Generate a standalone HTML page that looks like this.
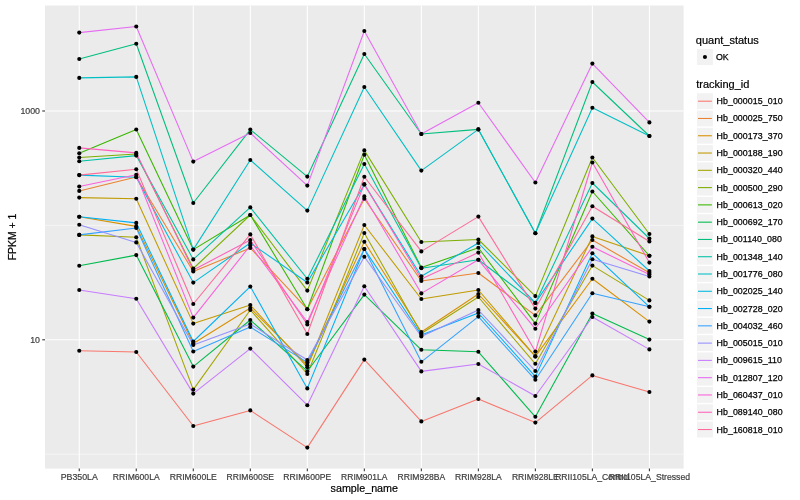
<!DOCTYPE html><html><head><meta charset="utf-8"><style>html,body{margin:0;padding:0;background:#fff;}svg{display:block;will-change:transform;}text{font-family:"Liberation Sans",sans-serif;}</style></head><body>
<svg width="800" height="500" viewBox="0 0 800 500">
<rect x="0" y="0" width="800" height="500" fill="#FFFFFF"/>
<rect x="45.0" y="5.5" width="638.60" height="463.10" fill="#EBEBEB"/>
<line x1="45.0" y1="454.20" x2="683.6" y2="454.20" stroke="#FFFFFF" stroke-width="0.53"/>
<line x1="45.0" y1="225.40" x2="683.6" y2="225.40" stroke="#FFFFFF" stroke-width="0.53"/>
<line x1="45.0" y1="339.80" x2="683.6" y2="339.80" stroke="#FFFFFF" stroke-width="1.07"/>
<line x1="45.0" y1="111.00" x2="683.6" y2="111.00" stroke="#FFFFFF" stroke-width="1.07"/>
<line x1="79.25" y1="5.5" x2="79.25" y2="468.6" stroke="#FFFFFF" stroke-width="1.07"/>
<line x1="136.26" y1="5.5" x2="136.26" y2="468.6" stroke="#FFFFFF" stroke-width="1.07"/>
<line x1="193.28" y1="5.5" x2="193.28" y2="468.6" stroke="#FFFFFF" stroke-width="1.07"/>
<line x1="250.30" y1="5.5" x2="250.30" y2="468.6" stroke="#FFFFFF" stroke-width="1.07"/>
<line x1="307.31" y1="5.5" x2="307.31" y2="468.6" stroke="#FFFFFF" stroke-width="1.07"/>
<line x1="364.32" y1="5.5" x2="364.32" y2="468.6" stroke="#FFFFFF" stroke-width="1.07"/>
<line x1="421.34" y1="5.5" x2="421.34" y2="468.6" stroke="#FFFFFF" stroke-width="1.07"/>
<line x1="478.36" y1="5.5" x2="478.36" y2="468.6" stroke="#FFFFFF" stroke-width="1.07"/>
<line x1="535.37" y1="5.5" x2="535.37" y2="468.6" stroke="#FFFFFF" stroke-width="1.07"/>
<line x1="592.38" y1="5.5" x2="592.38" y2="468.6" stroke="#FFFFFF" stroke-width="1.07"/>
<line x1="649.40" y1="5.5" x2="649.40" y2="468.6" stroke="#FFFFFF" stroke-width="1.07"/>
<polyline points="79.25,350.70 136.26,352.00 193.28,426.00 250.30,410.40 307.31,447.60 364.32,359.60 421.34,421.40 478.36,399.00 535.37,422.60 592.38,375.40 649.40,392.00" fill="none" stroke="#F8766D" stroke-width="1.07" stroke-linejoin="round" stroke-linecap="butt"/>
<polyline points="79.25,190.90 136.26,177.00 193.28,271.50 250.30,248.00 307.31,309.20 364.32,198.80 421.34,281.00 478.36,273.00 535.37,315.40 592.38,240.00 649.40,272.80" fill="none" stroke="#EA8331" stroke-width="1.07" stroke-linejoin="round" stroke-linecap="butt"/>
<polyline points="79.25,216.80 136.26,226.40 193.28,343.50 250.30,308.00 307.31,365.20 364.32,241.80 421.34,332.00 478.36,294.00 535.37,356.40 592.38,278.80 649.40,321.60" fill="none" stroke="#D89000" stroke-width="1.07" stroke-linejoin="round" stroke-linecap="butt"/>
<polyline points="79.25,197.60 136.26,198.70 193.28,323.60 250.30,305.00 307.31,367.20 364.32,225.00 421.34,299.00 478.36,290.00 535.37,356.40 592.38,236.40 649.40,255.80" fill="none" stroke="#C09B00" stroke-width="1.07" stroke-linejoin="round" stroke-linecap="butt"/>
<polyline points="79.25,234.90 136.26,237.30 193.28,389.60 250.30,310.00 307.31,374.00 364.32,233.00 421.34,333.50 478.36,297.00 535.37,363.80 592.38,265.60 649.40,300.40" fill="none" stroke="#A3A500" stroke-width="1.07" stroke-linejoin="round" stroke-linecap="butt"/>
<polyline points="79.25,157.50 136.26,154.00 193.28,268.50 250.30,215.00 307.31,290.60 364.32,150.40 421.34,242.00 478.36,239.50 535.37,296.10 592.38,157.50 649.40,234.00" fill="none" stroke="#7CAE00" stroke-width="1.07" stroke-linejoin="round" stroke-linecap="butt"/>
<polyline points="79.25,153.20 136.26,129.50 193.28,249.60 250.30,215.00 307.31,309.20 364.32,154.80 421.34,267.60 478.36,247.80 535.37,323.60 592.38,191.50 649.40,255.80" fill="none" stroke="#39B600" stroke-width="1.07" stroke-linejoin="round" stroke-linecap="butt"/>
<polyline points="79.25,265.70 136.26,255.10 193.28,366.60 250.30,320.00 307.31,371.20 364.32,294.60 421.34,349.80 478.36,351.80 535.37,416.80 592.38,313.60 649.40,339.60" fill="none" stroke="#00BB4E" stroke-width="1.07" stroke-linejoin="round" stroke-linecap="butt"/>
<polyline points="79.25,59.00 136.26,43.80 193.28,203.00 250.30,129.60 307.31,176.60 364.32,54.00 421.34,134.00 478.36,129.40 535.37,233.20 592.38,82.00 649.40,136.00" fill="none" stroke="#00BF7D" stroke-width="1.07" stroke-linejoin="round" stroke-linecap="butt"/>
<polyline points="79.25,161.20 136.26,155.60 193.28,259.40 250.30,207.40 307.31,278.75 364.32,164.00 421.34,268.20 478.36,259.80 535.37,302.90 592.38,183.00 649.40,238.50" fill="none" stroke="#00C1A3" stroke-width="1.07" stroke-linejoin="round" stroke-linecap="butt"/>
<polyline points="79.25,77.90 136.26,76.90 193.28,249.60 250.30,160.00 307.31,210.60 364.32,87.00 421.34,170.60 478.36,129.40 535.37,233.20 592.38,107.80 649.40,136.00" fill="none" stroke="#00BFC4" stroke-width="1.07" stroke-linejoin="round" stroke-linecap="butt"/>
<polyline points="79.25,175.10 136.26,177.20 193.28,282.60 250.30,243.00 307.31,282.50 364.32,184.40 421.34,276.20 478.36,243.00 535.37,302.90 592.38,218.60 649.40,271.00" fill="none" stroke="#00BAE0" stroke-width="1.07" stroke-linejoin="round" stroke-linecap="butt"/>
<polyline points="79.25,216.80 136.26,222.90 193.28,341.50 250.30,286.60 307.31,388.40 364.32,249.00 421.34,335.00 478.36,313.00 535.37,376.60 592.38,253.20 649.40,306.80" fill="none" stroke="#00B0F6" stroke-width="1.07" stroke-linejoin="round" stroke-linecap="butt"/>
<polyline points="79.25,234.90 136.26,228.00 193.28,351.50 250.30,327.00 307.31,362.40 364.32,249.00 421.34,361.80 478.36,316.60 535.37,379.80 592.38,293.20 649.40,306.80" fill="none" stroke="#35A2FF" stroke-width="1.07" stroke-linejoin="round" stroke-linecap="butt"/>
<polyline points="79.25,224.80 136.26,242.40 193.28,345.00 250.30,324.00 307.31,360.00 364.32,256.80 421.34,336.50 478.36,310.00 535.37,371.00 592.38,259.20 649.40,276.50" fill="none" stroke="#9590FF" stroke-width="1.07" stroke-linejoin="round" stroke-linecap="butt"/>
<polyline points="79.25,290.00 136.26,298.80 193.28,393.60 250.30,348.60 307.31,405.20 364.32,286.20 421.34,371.40 478.36,364.00 535.37,396.00 592.38,317.00 649.40,349.40" fill="none" stroke="#C77CFF" stroke-width="1.07" stroke-linejoin="round" stroke-linecap="butt"/>
<polyline points="79.25,32.60 136.26,26.50 193.28,161.60 250.30,133.00 307.31,185.60 364.32,31.00 421.34,134.00 478.36,102.80 535.37,182.50 592.38,63.60 649.40,122.40" fill="none" stroke="#E76BF3" stroke-width="1.07" stroke-linejoin="round" stroke-linecap="butt"/>
<polyline points="79.25,186.50 136.26,174.80 193.28,317.60 250.30,245.50 307.31,322.00 364.32,196.40 421.34,293.40 478.36,259.80 535.37,328.80 592.38,246.80 649.40,274.60" fill="none" stroke="#FA62DB" stroke-width="1.07" stroke-linejoin="round" stroke-linecap="butt"/>
<polyline points="79.25,147.90 136.26,152.90 193.28,270.00 250.30,240.00 307.31,324.50 364.32,184.40 421.34,279.00 478.36,252.60 535.37,351.60 592.38,162.50 649.40,262.60" fill="none" stroke="#FF62BC" stroke-width="1.07" stroke-linejoin="round" stroke-linecap="butt"/>
<polyline points="79.25,175.10 136.26,169.20 193.28,304.00 250.30,234.40 307.31,334.00 364.32,176.80 421.34,251.40 478.36,216.60 535.37,308.60 592.38,206.20 649.40,241.50" fill="none" stroke="#FF6A98" stroke-width="1.07" stroke-linejoin="round" stroke-linecap="butt"/>
<circle cx="79.25" cy="350.70" r="2.05" fill="#000"/>
<circle cx="79.25" cy="190.90" r="2.05" fill="#000"/>
<circle cx="79.25" cy="216.80" r="2.05" fill="#000"/>
<circle cx="79.25" cy="197.60" r="2.05" fill="#000"/>
<circle cx="79.25" cy="234.90" r="2.05" fill="#000"/>
<circle cx="79.25" cy="157.50" r="2.05" fill="#000"/>
<circle cx="79.25" cy="153.20" r="2.05" fill="#000"/>
<circle cx="79.25" cy="265.70" r="2.05" fill="#000"/>
<circle cx="79.25" cy="59.00" r="2.05" fill="#000"/>
<circle cx="79.25" cy="161.20" r="2.05" fill="#000"/>
<circle cx="79.25" cy="77.90" r="2.05" fill="#000"/>
<circle cx="79.25" cy="175.10" r="2.05" fill="#000"/>
<circle cx="79.25" cy="216.80" r="2.05" fill="#000"/>
<circle cx="79.25" cy="234.90" r="2.05" fill="#000"/>
<circle cx="79.25" cy="224.80" r="2.05" fill="#000"/>
<circle cx="79.25" cy="290.00" r="2.05" fill="#000"/>
<circle cx="79.25" cy="32.60" r="2.05" fill="#000"/>
<circle cx="79.25" cy="186.50" r="2.05" fill="#000"/>
<circle cx="79.25" cy="147.90" r="2.05" fill="#000"/>
<circle cx="79.25" cy="175.10" r="2.05" fill="#000"/>
<circle cx="136.26" cy="352.00" r="2.05" fill="#000"/>
<circle cx="136.26" cy="177.00" r="2.05" fill="#000"/>
<circle cx="136.26" cy="226.40" r="2.05" fill="#000"/>
<circle cx="136.26" cy="198.70" r="2.05" fill="#000"/>
<circle cx="136.26" cy="237.30" r="2.05" fill="#000"/>
<circle cx="136.26" cy="154.00" r="2.05" fill="#000"/>
<circle cx="136.26" cy="129.50" r="2.05" fill="#000"/>
<circle cx="136.26" cy="255.10" r="2.05" fill="#000"/>
<circle cx="136.26" cy="43.80" r="2.05" fill="#000"/>
<circle cx="136.26" cy="155.60" r="2.05" fill="#000"/>
<circle cx="136.26" cy="76.90" r="2.05" fill="#000"/>
<circle cx="136.26" cy="177.20" r="2.05" fill="#000"/>
<circle cx="136.26" cy="222.90" r="2.05" fill="#000"/>
<circle cx="136.26" cy="228.00" r="2.05" fill="#000"/>
<circle cx="136.26" cy="242.40" r="2.05" fill="#000"/>
<circle cx="136.26" cy="298.80" r="2.05" fill="#000"/>
<circle cx="136.26" cy="26.50" r="2.05" fill="#000"/>
<circle cx="136.26" cy="174.80" r="2.05" fill="#000"/>
<circle cx="136.26" cy="152.90" r="2.05" fill="#000"/>
<circle cx="136.26" cy="169.20" r="2.05" fill="#000"/>
<circle cx="193.28" cy="426.00" r="2.05" fill="#000"/>
<circle cx="193.28" cy="271.50" r="2.05" fill="#000"/>
<circle cx="193.28" cy="343.50" r="2.05" fill="#000"/>
<circle cx="193.28" cy="323.60" r="2.05" fill="#000"/>
<circle cx="193.28" cy="389.60" r="2.05" fill="#000"/>
<circle cx="193.28" cy="268.50" r="2.05" fill="#000"/>
<circle cx="193.28" cy="249.60" r="2.05" fill="#000"/>
<circle cx="193.28" cy="366.60" r="2.05" fill="#000"/>
<circle cx="193.28" cy="203.00" r="2.05" fill="#000"/>
<circle cx="193.28" cy="259.40" r="2.05" fill="#000"/>
<circle cx="193.28" cy="249.60" r="2.05" fill="#000"/>
<circle cx="193.28" cy="282.60" r="2.05" fill="#000"/>
<circle cx="193.28" cy="341.50" r="2.05" fill="#000"/>
<circle cx="193.28" cy="351.50" r="2.05" fill="#000"/>
<circle cx="193.28" cy="345.00" r="2.05" fill="#000"/>
<circle cx="193.28" cy="393.60" r="2.05" fill="#000"/>
<circle cx="193.28" cy="161.60" r="2.05" fill="#000"/>
<circle cx="193.28" cy="317.60" r="2.05" fill="#000"/>
<circle cx="193.28" cy="270.00" r="2.05" fill="#000"/>
<circle cx="193.28" cy="304.00" r="2.05" fill="#000"/>
<circle cx="250.30" cy="410.40" r="2.05" fill="#000"/>
<circle cx="250.30" cy="248.00" r="2.05" fill="#000"/>
<circle cx="250.30" cy="308.00" r="2.05" fill="#000"/>
<circle cx="250.30" cy="305.00" r="2.05" fill="#000"/>
<circle cx="250.30" cy="310.00" r="2.05" fill="#000"/>
<circle cx="250.30" cy="215.00" r="2.05" fill="#000"/>
<circle cx="250.30" cy="215.00" r="2.05" fill="#000"/>
<circle cx="250.30" cy="320.00" r="2.05" fill="#000"/>
<circle cx="250.30" cy="129.60" r="2.05" fill="#000"/>
<circle cx="250.30" cy="207.40" r="2.05" fill="#000"/>
<circle cx="250.30" cy="160.00" r="2.05" fill="#000"/>
<circle cx="250.30" cy="243.00" r="2.05" fill="#000"/>
<circle cx="250.30" cy="286.60" r="2.05" fill="#000"/>
<circle cx="250.30" cy="327.00" r="2.05" fill="#000"/>
<circle cx="250.30" cy="324.00" r="2.05" fill="#000"/>
<circle cx="250.30" cy="348.60" r="2.05" fill="#000"/>
<circle cx="250.30" cy="133.00" r="2.05" fill="#000"/>
<circle cx="250.30" cy="245.50" r="2.05" fill="#000"/>
<circle cx="250.30" cy="240.00" r="2.05" fill="#000"/>
<circle cx="250.30" cy="234.40" r="2.05" fill="#000"/>
<circle cx="307.31" cy="447.60" r="2.05" fill="#000"/>
<circle cx="307.31" cy="309.20" r="2.05" fill="#000"/>
<circle cx="307.31" cy="365.20" r="2.05" fill="#000"/>
<circle cx="307.31" cy="367.20" r="2.05" fill="#000"/>
<circle cx="307.31" cy="374.00" r="2.05" fill="#000"/>
<circle cx="307.31" cy="290.60" r="2.05" fill="#000"/>
<circle cx="307.31" cy="309.20" r="2.05" fill="#000"/>
<circle cx="307.31" cy="371.20" r="2.05" fill="#000"/>
<circle cx="307.31" cy="176.60" r="2.05" fill="#000"/>
<circle cx="307.31" cy="278.75" r="2.05" fill="#000"/>
<circle cx="307.31" cy="210.60" r="2.05" fill="#000"/>
<circle cx="307.31" cy="282.50" r="2.05" fill="#000"/>
<circle cx="307.31" cy="388.40" r="2.05" fill="#000"/>
<circle cx="307.31" cy="362.40" r="2.05" fill="#000"/>
<circle cx="307.31" cy="360.00" r="2.05" fill="#000"/>
<circle cx="307.31" cy="405.20" r="2.05" fill="#000"/>
<circle cx="307.31" cy="185.60" r="2.05" fill="#000"/>
<circle cx="307.31" cy="322.00" r="2.05" fill="#000"/>
<circle cx="307.31" cy="324.50" r="2.05" fill="#000"/>
<circle cx="307.31" cy="334.00" r="2.05" fill="#000"/>
<circle cx="364.32" cy="359.60" r="2.05" fill="#000"/>
<circle cx="364.32" cy="198.80" r="2.05" fill="#000"/>
<circle cx="364.32" cy="241.80" r="2.05" fill="#000"/>
<circle cx="364.32" cy="225.00" r="2.05" fill="#000"/>
<circle cx="364.32" cy="233.00" r="2.05" fill="#000"/>
<circle cx="364.32" cy="150.40" r="2.05" fill="#000"/>
<circle cx="364.32" cy="154.80" r="2.05" fill="#000"/>
<circle cx="364.32" cy="294.60" r="2.05" fill="#000"/>
<circle cx="364.32" cy="54.00" r="2.05" fill="#000"/>
<circle cx="364.32" cy="164.00" r="2.05" fill="#000"/>
<circle cx="364.32" cy="87.00" r="2.05" fill="#000"/>
<circle cx="364.32" cy="184.40" r="2.05" fill="#000"/>
<circle cx="364.32" cy="249.00" r="2.05" fill="#000"/>
<circle cx="364.32" cy="249.00" r="2.05" fill="#000"/>
<circle cx="364.32" cy="256.80" r="2.05" fill="#000"/>
<circle cx="364.32" cy="286.20" r="2.05" fill="#000"/>
<circle cx="364.32" cy="31.00" r="2.05" fill="#000"/>
<circle cx="364.32" cy="196.40" r="2.05" fill="#000"/>
<circle cx="364.32" cy="184.40" r="2.05" fill="#000"/>
<circle cx="364.32" cy="176.80" r="2.05" fill="#000"/>
<circle cx="421.34" cy="421.40" r="2.05" fill="#000"/>
<circle cx="421.34" cy="281.00" r="2.05" fill="#000"/>
<circle cx="421.34" cy="332.00" r="2.05" fill="#000"/>
<circle cx="421.34" cy="299.00" r="2.05" fill="#000"/>
<circle cx="421.34" cy="333.50" r="2.05" fill="#000"/>
<circle cx="421.34" cy="242.00" r="2.05" fill="#000"/>
<circle cx="421.34" cy="267.60" r="2.05" fill="#000"/>
<circle cx="421.34" cy="349.80" r="2.05" fill="#000"/>
<circle cx="421.34" cy="134.00" r="2.05" fill="#000"/>
<circle cx="421.34" cy="268.20" r="2.05" fill="#000"/>
<circle cx="421.34" cy="170.60" r="2.05" fill="#000"/>
<circle cx="421.34" cy="276.20" r="2.05" fill="#000"/>
<circle cx="421.34" cy="335.00" r="2.05" fill="#000"/>
<circle cx="421.34" cy="361.80" r="2.05" fill="#000"/>
<circle cx="421.34" cy="336.50" r="2.05" fill="#000"/>
<circle cx="421.34" cy="371.40" r="2.05" fill="#000"/>
<circle cx="421.34" cy="134.00" r="2.05" fill="#000"/>
<circle cx="421.34" cy="293.40" r="2.05" fill="#000"/>
<circle cx="421.34" cy="279.00" r="2.05" fill="#000"/>
<circle cx="421.34" cy="251.40" r="2.05" fill="#000"/>
<circle cx="478.36" cy="399.00" r="2.05" fill="#000"/>
<circle cx="478.36" cy="273.00" r="2.05" fill="#000"/>
<circle cx="478.36" cy="294.00" r="2.05" fill="#000"/>
<circle cx="478.36" cy="290.00" r="2.05" fill="#000"/>
<circle cx="478.36" cy="297.00" r="2.05" fill="#000"/>
<circle cx="478.36" cy="239.50" r="2.05" fill="#000"/>
<circle cx="478.36" cy="247.80" r="2.05" fill="#000"/>
<circle cx="478.36" cy="351.80" r="2.05" fill="#000"/>
<circle cx="478.36" cy="129.40" r="2.05" fill="#000"/>
<circle cx="478.36" cy="259.80" r="2.05" fill="#000"/>
<circle cx="478.36" cy="129.40" r="2.05" fill="#000"/>
<circle cx="478.36" cy="243.00" r="2.05" fill="#000"/>
<circle cx="478.36" cy="313.00" r="2.05" fill="#000"/>
<circle cx="478.36" cy="316.60" r="2.05" fill="#000"/>
<circle cx="478.36" cy="310.00" r="2.05" fill="#000"/>
<circle cx="478.36" cy="364.00" r="2.05" fill="#000"/>
<circle cx="478.36" cy="102.80" r="2.05" fill="#000"/>
<circle cx="478.36" cy="259.80" r="2.05" fill="#000"/>
<circle cx="478.36" cy="252.60" r="2.05" fill="#000"/>
<circle cx="478.36" cy="216.60" r="2.05" fill="#000"/>
<circle cx="535.37" cy="422.60" r="2.05" fill="#000"/>
<circle cx="535.37" cy="315.40" r="2.05" fill="#000"/>
<circle cx="535.37" cy="356.40" r="2.05" fill="#000"/>
<circle cx="535.37" cy="356.40" r="2.05" fill="#000"/>
<circle cx="535.37" cy="363.80" r="2.05" fill="#000"/>
<circle cx="535.37" cy="296.10" r="2.05" fill="#000"/>
<circle cx="535.37" cy="323.60" r="2.05" fill="#000"/>
<circle cx="535.37" cy="416.80" r="2.05" fill="#000"/>
<circle cx="535.37" cy="233.20" r="2.05" fill="#000"/>
<circle cx="535.37" cy="302.90" r="2.05" fill="#000"/>
<circle cx="535.37" cy="233.20" r="2.05" fill="#000"/>
<circle cx="535.37" cy="302.90" r="2.05" fill="#000"/>
<circle cx="535.37" cy="376.60" r="2.05" fill="#000"/>
<circle cx="535.37" cy="379.80" r="2.05" fill="#000"/>
<circle cx="535.37" cy="371.00" r="2.05" fill="#000"/>
<circle cx="535.37" cy="396.00" r="2.05" fill="#000"/>
<circle cx="535.37" cy="182.50" r="2.05" fill="#000"/>
<circle cx="535.37" cy="328.80" r="2.05" fill="#000"/>
<circle cx="535.37" cy="351.60" r="2.05" fill="#000"/>
<circle cx="535.37" cy="308.60" r="2.05" fill="#000"/>
<circle cx="592.38" cy="375.40" r="2.05" fill="#000"/>
<circle cx="592.38" cy="240.00" r="2.05" fill="#000"/>
<circle cx="592.38" cy="278.80" r="2.05" fill="#000"/>
<circle cx="592.38" cy="236.40" r="2.05" fill="#000"/>
<circle cx="592.38" cy="265.60" r="2.05" fill="#000"/>
<circle cx="592.38" cy="157.50" r="2.05" fill="#000"/>
<circle cx="592.38" cy="191.50" r="2.05" fill="#000"/>
<circle cx="592.38" cy="313.60" r="2.05" fill="#000"/>
<circle cx="592.38" cy="82.00" r="2.05" fill="#000"/>
<circle cx="592.38" cy="183.00" r="2.05" fill="#000"/>
<circle cx="592.38" cy="107.80" r="2.05" fill="#000"/>
<circle cx="592.38" cy="218.60" r="2.05" fill="#000"/>
<circle cx="592.38" cy="253.20" r="2.05" fill="#000"/>
<circle cx="592.38" cy="293.20" r="2.05" fill="#000"/>
<circle cx="592.38" cy="259.20" r="2.05" fill="#000"/>
<circle cx="592.38" cy="317.00" r="2.05" fill="#000"/>
<circle cx="592.38" cy="63.60" r="2.05" fill="#000"/>
<circle cx="592.38" cy="246.80" r="2.05" fill="#000"/>
<circle cx="592.38" cy="162.50" r="2.05" fill="#000"/>
<circle cx="592.38" cy="206.20" r="2.05" fill="#000"/>
<circle cx="649.40" cy="392.00" r="2.05" fill="#000"/>
<circle cx="649.40" cy="272.80" r="2.05" fill="#000"/>
<circle cx="649.40" cy="321.60" r="2.05" fill="#000"/>
<circle cx="649.40" cy="255.80" r="2.05" fill="#000"/>
<circle cx="649.40" cy="300.40" r="2.05" fill="#000"/>
<circle cx="649.40" cy="234.00" r="2.05" fill="#000"/>
<circle cx="649.40" cy="255.80" r="2.05" fill="#000"/>
<circle cx="649.40" cy="339.60" r="2.05" fill="#000"/>
<circle cx="649.40" cy="136.00" r="2.05" fill="#000"/>
<circle cx="649.40" cy="238.50" r="2.05" fill="#000"/>
<circle cx="649.40" cy="136.00" r="2.05" fill="#000"/>
<circle cx="649.40" cy="271.00" r="2.05" fill="#000"/>
<circle cx="649.40" cy="306.80" r="2.05" fill="#000"/>
<circle cx="649.40" cy="306.80" r="2.05" fill="#000"/>
<circle cx="649.40" cy="276.50" r="2.05" fill="#000"/>
<circle cx="649.40" cy="349.40" r="2.05" fill="#000"/>
<circle cx="649.40" cy="122.40" r="2.05" fill="#000"/>
<circle cx="649.40" cy="274.60" r="2.05" fill="#000"/>
<circle cx="649.40" cy="262.60" r="2.05" fill="#000"/>
<circle cx="649.40" cy="241.50" r="2.05" fill="#000"/>
<line x1="79.25" y1="468.6" x2="79.25" y2="471.35" stroke="#333333" stroke-width="1.07"/>
<line x1="136.26" y1="468.6" x2="136.26" y2="471.35" stroke="#333333" stroke-width="1.07"/>
<line x1="193.28" y1="468.6" x2="193.28" y2="471.35" stroke="#333333" stroke-width="1.07"/>
<line x1="250.30" y1="468.6" x2="250.30" y2="471.35" stroke="#333333" stroke-width="1.07"/>
<line x1="307.31" y1="468.6" x2="307.31" y2="471.35" stroke="#333333" stroke-width="1.07"/>
<line x1="364.32" y1="468.6" x2="364.32" y2="471.35" stroke="#333333" stroke-width="1.07"/>
<line x1="421.34" y1="468.6" x2="421.34" y2="471.35" stroke="#333333" stroke-width="1.07"/>
<line x1="478.36" y1="468.6" x2="478.36" y2="471.35" stroke="#333333" stroke-width="1.07"/>
<line x1="535.37" y1="468.6" x2="535.37" y2="471.35" stroke="#333333" stroke-width="1.07"/>
<line x1="592.38" y1="468.6" x2="592.38" y2="471.35" stroke="#333333" stroke-width="1.07"/>
<line x1="649.40" y1="468.6" x2="649.40" y2="471.35" stroke="#333333" stroke-width="1.07"/>
<line x1="42.25" y1="339.80" x2="45.0" y2="339.80" stroke="#333333" stroke-width="1.07"/>
<line x1="42.25" y1="111.00" x2="45.0" y2="111.00" stroke="#333333" stroke-width="1.07"/>
<text x="40" y="114.10" font-size="8.8" fill="#3D3D3D" stroke="#3D3D3D" stroke-width="0.2" text-anchor="end">1000</text>
<text x="40" y="342.90" font-size="8.8" fill="#3D3D3D" stroke="#3D3D3D" stroke-width="0.2" text-anchor="end">10</text>
<text x="79.25" y="480" font-size="8.8" fill="#3D3D3D" stroke="#3D3D3D" stroke-width="0.2" text-anchor="middle" textLength="37.19" lengthAdjust="spacingAndGlyphs">PB350LA</text>
<text x="136.26" y="480" font-size="8.8" fill="#3D3D3D" stroke="#3D3D3D" stroke-width="0.2" text-anchor="middle" textLength="46.8" lengthAdjust="spacingAndGlyphs">RRIM600LA</text>
<text x="193.28" y="480" font-size="8.8" fill="#3D3D3D" stroke="#3D3D3D" stroke-width="0.2" text-anchor="middle" textLength="47.16" lengthAdjust="spacingAndGlyphs">RRIM600LE</text>
<text x="250.30" y="480" font-size="8.8" fill="#3D3D3D" stroke="#3D3D3D" stroke-width="0.2" text-anchor="middle" textLength="47.46" lengthAdjust="spacingAndGlyphs">RRIM600SE</text>
<text x="307.31" y="480" font-size="8.8" fill="#3D3D3D" stroke="#3D3D3D" stroke-width="0.2" text-anchor="middle" textLength="47.97" lengthAdjust="spacingAndGlyphs">RRIM600PE</text>
<text x="364.32" y="480" font-size="8.8" fill="#3D3D3D" stroke="#3D3D3D" stroke-width="0.2" text-anchor="middle" textLength="46.49" lengthAdjust="spacingAndGlyphs">RRIM901LA</text>
<text x="421.34" y="480" font-size="8.8" fill="#3D3D3D" stroke="#3D3D3D" stroke-width="0.2" text-anchor="middle" textLength="47.66" lengthAdjust="spacingAndGlyphs">RRIM928BA</text>
<text x="478.36" y="480" font-size="8.8" fill="#3D3D3D" stroke="#3D3D3D" stroke-width="0.2" text-anchor="middle" textLength="46.8" lengthAdjust="spacingAndGlyphs">RRIM928LA</text>
<text x="535.37" y="480" font-size="8.8" fill="#3D3D3D" stroke="#3D3D3D" stroke-width="0.2" text-anchor="middle" textLength="46.9" lengthAdjust="spacingAndGlyphs">RRIM928LE</text>
<text x="592.38" y="480" font-size="8.8" fill="#3D3D3D" stroke="#3D3D3D" stroke-width="0.2" text-anchor="middle" textLength="74.4" lengthAdjust="spacingAndGlyphs">RRII105LA_Control</text>
<text x="649.40" y="480" font-size="8.8" fill="#3D3D3D" stroke="#3D3D3D" stroke-width="0.2" text-anchor="middle" textLength="81.3" lengthAdjust="spacingAndGlyphs">RRII105LA_Stressed</text>
<text x="364.30" y="492" font-size="11" fill="#000" stroke="#000" stroke-width="0.2" text-anchor="middle" textLength="67.4" lengthAdjust="spacingAndGlyphs">sample_name</text>
<text x="0" y="0" font-size="11" fill="#000" stroke="#000" stroke-width="0.2" text-anchor="middle" transform="translate(16,237.05) rotate(-90)" textLength="46.6" lengthAdjust="spacingAndGlyphs">FPKM + 1</text>
<text x="695.8" y="43.5" font-size="11" fill="#000" stroke="#000" stroke-width="0.2">quant_status</text>
<rect x="697.01" y="49.07" width="15.86" height="15.86" fill="#F2F2F2"/>
<circle cx="704.94" cy="57.00" r="2.05" fill="#000"/>
<text x="715.9" y="60.10" font-size="8.8" fill="#000" stroke="#000" stroke-width="0.25">OK</text>
<text x="696.2" y="88" font-size="11" fill="#000" stroke="#000" stroke-width="0.2">tracking_id</text>
<rect x="697.01" y="93.27" width="15.86" height="15.86" fill="#F2F2F2"/>
<line x1="698.00" y1="101.20" x2="711.88" y2="101.20" stroke="#F8766D" stroke-width="1.07"/>
<text x="716.5" y="104.20" font-size="8.8" fill="#000" letter-spacing="0.08" stroke="#000" stroke-width="0.25">Hb_000015_010</text>
<rect x="697.01" y="110.55" width="15.86" height="15.86" fill="#F2F2F2"/>
<line x1="698.00" y1="118.48" x2="711.88" y2="118.48" stroke="#EA8331" stroke-width="1.07"/>
<text x="716.5" y="121.48" font-size="8.8" fill="#000" letter-spacing="0.08" stroke="#000" stroke-width="0.25">Hb_000025_750</text>
<rect x="697.01" y="127.83" width="15.86" height="15.86" fill="#F2F2F2"/>
<line x1="698.00" y1="135.76" x2="711.88" y2="135.76" stroke="#D89000" stroke-width="1.07"/>
<text x="716.5" y="138.76" font-size="8.8" fill="#000" letter-spacing="0.08" stroke="#000" stroke-width="0.25">Hb_000173_370</text>
<rect x="697.01" y="145.11" width="15.86" height="15.86" fill="#F2F2F2"/>
<line x1="698.00" y1="153.04" x2="711.88" y2="153.04" stroke="#C09B00" stroke-width="1.07"/>
<text x="716.5" y="156.04" font-size="8.8" fill="#000" letter-spacing="0.08" stroke="#000" stroke-width="0.25">Hb_000188_190</text>
<rect x="697.01" y="162.39" width="15.86" height="15.86" fill="#F2F2F2"/>
<line x1="698.00" y1="170.32" x2="711.88" y2="170.32" stroke="#A3A500" stroke-width="1.07"/>
<text x="716.5" y="173.32" font-size="8.8" fill="#000" letter-spacing="0.08" stroke="#000" stroke-width="0.25">Hb_000320_440</text>
<rect x="697.01" y="179.67" width="15.86" height="15.86" fill="#F2F2F2"/>
<line x1="698.00" y1="187.60" x2="711.88" y2="187.60" stroke="#7CAE00" stroke-width="1.07"/>
<text x="716.5" y="190.60" font-size="8.8" fill="#000" letter-spacing="0.08" stroke="#000" stroke-width="0.25">Hb_000500_290</text>
<rect x="697.01" y="196.95" width="15.86" height="15.86" fill="#F2F2F2"/>
<line x1="698.00" y1="204.88" x2="711.88" y2="204.88" stroke="#39B600" stroke-width="1.07"/>
<text x="716.5" y="207.88" font-size="8.8" fill="#000" letter-spacing="0.08" stroke="#000" stroke-width="0.25">Hb_000613_020</text>
<rect x="697.01" y="214.23" width="15.86" height="15.86" fill="#F2F2F2"/>
<line x1="698.00" y1="222.16" x2="711.88" y2="222.16" stroke="#00BB4E" stroke-width="1.07"/>
<text x="716.5" y="225.16" font-size="8.8" fill="#000" letter-spacing="0.08" stroke="#000" stroke-width="0.25">Hb_000692_170</text>
<rect x="697.01" y="231.51" width="15.86" height="15.86" fill="#F2F2F2"/>
<line x1="698.00" y1="239.44" x2="711.88" y2="239.44" stroke="#00BF7D" stroke-width="1.07"/>
<text x="716.5" y="242.44" font-size="8.8" fill="#000" letter-spacing="0.08" stroke="#000" stroke-width="0.25">Hb_001140_080</text>
<rect x="697.01" y="248.79" width="15.86" height="15.86" fill="#F2F2F2"/>
<line x1="698.00" y1="256.72" x2="711.88" y2="256.72" stroke="#00C1A3" stroke-width="1.07"/>
<text x="716.5" y="259.72" font-size="8.8" fill="#000" letter-spacing="0.08" stroke="#000" stroke-width="0.25">Hb_001348_140</text>
<rect x="697.01" y="266.07" width="15.86" height="15.86" fill="#F2F2F2"/>
<line x1="698.00" y1="274.00" x2="711.88" y2="274.00" stroke="#00BFC4" stroke-width="1.07"/>
<text x="716.5" y="277.00" font-size="8.8" fill="#000" letter-spacing="0.08" stroke="#000" stroke-width="0.25">Hb_001776_080</text>
<rect x="697.01" y="283.35" width="15.86" height="15.86" fill="#F2F2F2"/>
<line x1="698.00" y1="291.28" x2="711.88" y2="291.28" stroke="#00BAE0" stroke-width="1.07"/>
<text x="716.5" y="294.28" font-size="8.8" fill="#000" letter-spacing="0.08" stroke="#000" stroke-width="0.25">Hb_002025_140</text>
<rect x="697.01" y="300.63" width="15.86" height="15.86" fill="#F2F2F2"/>
<line x1="698.00" y1="308.56" x2="711.88" y2="308.56" stroke="#00B0F6" stroke-width="1.07"/>
<text x="716.5" y="311.56" font-size="8.8" fill="#000" letter-spacing="0.08" stroke="#000" stroke-width="0.25">Hb_002728_020</text>
<rect x="697.01" y="317.91" width="15.86" height="15.86" fill="#F2F2F2"/>
<line x1="698.00" y1="325.84" x2="711.88" y2="325.84" stroke="#35A2FF" stroke-width="1.07"/>
<text x="716.5" y="328.84" font-size="8.8" fill="#000" letter-spacing="0.08" stroke="#000" stroke-width="0.25">Hb_004032_460</text>
<rect x="697.01" y="335.19" width="15.86" height="15.86" fill="#F2F2F2"/>
<line x1="698.00" y1="343.12" x2="711.88" y2="343.12" stroke="#9590FF" stroke-width="1.07"/>
<text x="716.5" y="346.12" font-size="8.8" fill="#000" letter-spacing="0.08" stroke="#000" stroke-width="0.25">Hb_005015_010</text>
<rect x="697.01" y="352.47" width="15.86" height="15.86" fill="#F2F2F2"/>
<line x1="698.00" y1="360.40" x2="711.88" y2="360.40" stroke="#C77CFF" stroke-width="1.07"/>
<text x="716.5" y="363.40" font-size="8.8" fill="#000" letter-spacing="0.08" stroke="#000" stroke-width="0.25">Hb_009615_110</text>
<rect x="697.01" y="369.75" width="15.86" height="15.86" fill="#F2F2F2"/>
<line x1="698.00" y1="377.68" x2="711.88" y2="377.68" stroke="#E76BF3" stroke-width="1.07"/>
<text x="716.5" y="380.68" font-size="8.8" fill="#000" letter-spacing="0.08" stroke="#000" stroke-width="0.25">Hb_012807_120</text>
<rect x="697.01" y="387.03" width="15.86" height="15.86" fill="#F2F2F2"/>
<line x1="698.00" y1="394.96" x2="711.88" y2="394.96" stroke="#FA62DB" stroke-width="1.07"/>
<text x="716.5" y="397.96" font-size="8.8" fill="#000" letter-spacing="0.08" stroke="#000" stroke-width="0.25">Hb_060437_010</text>
<rect x="697.01" y="404.31" width="15.86" height="15.86" fill="#F2F2F2"/>
<line x1="698.00" y1="412.24" x2="711.88" y2="412.24" stroke="#FF62BC" stroke-width="1.07"/>
<text x="716.5" y="415.24" font-size="8.8" fill="#000" letter-spacing="0.08" stroke="#000" stroke-width="0.25">Hb_089140_080</text>
<rect x="697.01" y="421.59" width="15.86" height="15.86" fill="#F2F2F2"/>
<line x1="698.00" y1="429.52" x2="711.88" y2="429.52" stroke="#FF6A98" stroke-width="1.07"/>
<text x="716.5" y="432.52" font-size="8.8" fill="#000" letter-spacing="0.08" stroke="#000" stroke-width="0.25">Hb_160818_010</text>
</svg></body></html>
